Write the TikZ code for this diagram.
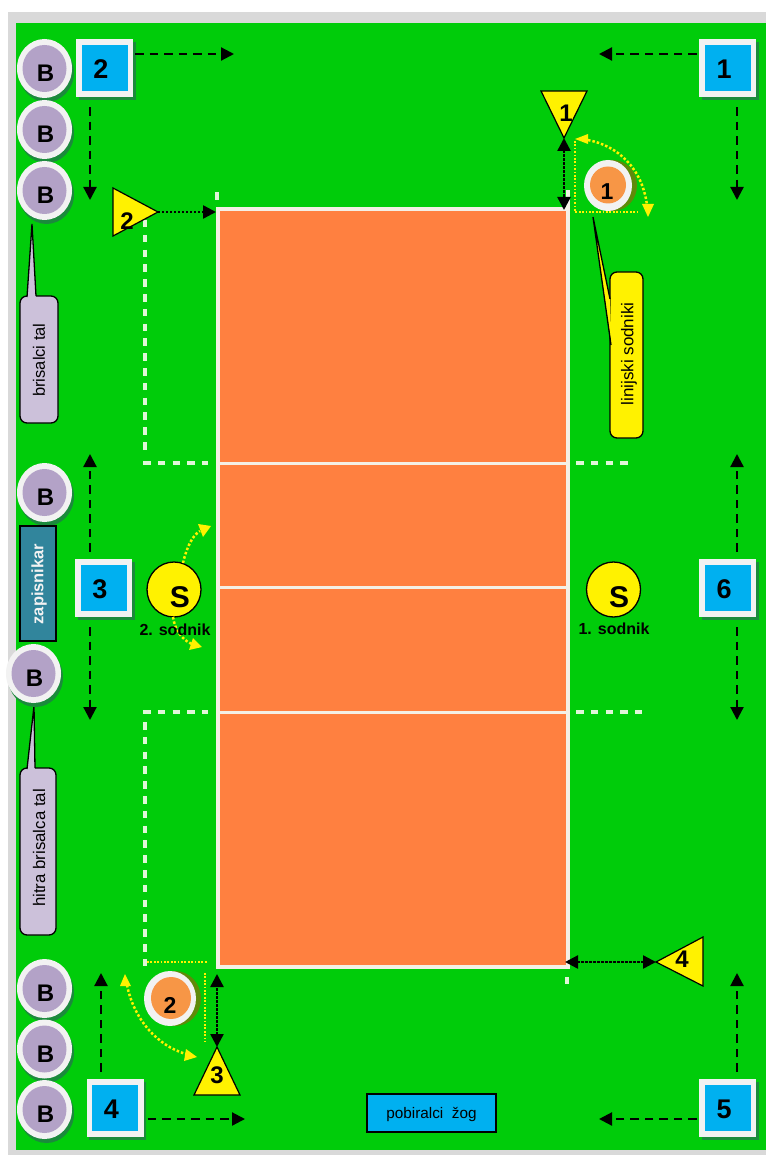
\documentclass[tikz,border=0pt]{standalone}
\usepackage{fontspec}
\setmainfont{Liberation Sans}
\usetikzlibrary{arrows.meta,shapes.geometric,calc}
\definecolor{grass}{HTML}{00CC0A}
\definecolor{frameg}{HTML}{D9D9D9}
\definecolor{courto}{HTML}{FF8040}
\definecolor{lineW}{HTML}{F4F0E6}
\definecolor{skyb}{HTML}{00B0F0}
\definecolor{lilac}{HTML}{B3A2C7}
\definecolor{lilacb}{HTML}{CCC1DA}
\definecolor{ring}{HTML}{F2F2F2}
\definecolor{shadowg}{HTML}{1B8A3C}
\definecolor{shadowo}{HTML}{5F8A0A}
\definecolor{ballo}{HTML}{F79646}
\definecolor{tealb}{HTML}{31859C}
\definecolor{dashW}{HTML}{E0F6D8}
\newcommand{\fs}[1]{\fontsize{#1}{#1}\selectfont}
\tikzset{
  x=1pt,y=-1pt,
  txt/.style={inner sep=0,font=\bfseries\fs{#1}},
  lab/.style={inner sep=0,font=\fs{#1},rotate=90},
  ellip/.style={ellipse,inner sep=0,minimum width=#1,draw=none},
  bsq/.style={rectangle,inner sep=0,minimum width=57pt,minimum height=58pt,fill=ring},
  bsqin/.style={rectangle,inner sep=0,minimum width=46pt,minimum height=46pt,fill=skyb},
  bsqsh/.style={rectangle,inner sep=0,minimum width=57pt,minimum height=58pt,fill=shadowg},
  dasharrow/.style={draw=black,line width=2.2pt,dash pattern=on 8.5pt off 6pt,-{Triangle[length=13pt,width=13pt]}},
  dotarrow/.style={draw=black,line width=2.4pt,dash pattern=on 2.2pt off 1.8pt,-{Triangle[length=13pt,width=13pt]}},
  dotboth/.style={draw=black,line width=2.4pt,dash pattern=on 2.2pt off 1.8pt,{Triangle[length=13pt,width=13pt]}-{Triangle[length=13pt,width=13pt]}},
  yelarc/.style={draw=yellow,line width=2.5pt,dash pattern=on 2.5pt off 2pt},
  yelthin/.style={draw=yellow,line width=1.5pt,dash pattern=on 1.7pt off 1.7pt},
  whdash/.style={draw=dashW,line width=3.5pt,dash pattern=on 7.5pt off 7.3pt},
  courtline/.style={draw=lineW,line width=3pt},
  tri/.style={draw=black,line width=1.2pt,fill=yellow},
  callout/.style={draw=black,line width=1.3pt,rounded corners=7pt},
  scircle/.style={ellipse,inner sep=0,minimum width=54pt,minimum height=55pt,draw=black,line width=1.3pt,fill=yellow},
}
\newcommand{\ballB}[3]{%
  \node[ellip=55pt,minimum height=59pt,fill=shadowg] at (#2+2,#3+4) {};
  \node[ellip=55pt,minimum height=59pt,fill=ring] (#1) at (#2,#3) {};
  \node[ellip=44pt,minimum height=47pt,fill=lilac] at (#2,#3) {};
  \node[txt=24] at (#2+1,#3+5) {B};
}
\newcommand{\numbox}[4]{%
  \node[bsqsh] at (#2+2.5,#3+3) {};
  \node[bsq] (#1) at (#2,#3) {};
  \node[bsqin] at (#2,#3) {};
  \node[txt=27] at (#2-3.5,#3+1) {#4};
}
\begin{document}
\begin{tikzpicture}
\useasboundingbox (0,0) rectangle (766,1155);
\fill[white] (0,0) rectangle (766,1155);
\fill[frameg] (8,12) rectangle (766,1155);
\fill[grass] (16,23) rectangle (766,1150);
% court
\node[rectangle,inner sep=0,minimum width=350pt,minimum height=758pt,fill=courto,draw=lineW,line width=4pt] (court) at (392.5,588) {};
\coordinate (m1l) at (217,463); \coordinate (m1r) at (568,463);
\coordinate (m2l) at (217,587); \coordinate (m2r) at (568,587);
\coordinate (m3l) at (217,712); \coordinate (m3r) at (568,712);
\draw[courtline] (m1l)--(m1r); \draw[courtline] (m2l)--(m2r); \draw[courtline] (m3l)--(m3r);
% free-zone dashes
\coordinate (a1) at (145,220); \coordinate (a2) at (145,454); \coordinate (a3) at (208,463);
\coordinate (a4) at (143,712); \coordinate (a5) at (208,712);
\coordinate (a6) at (145,722); \coordinate (a7) at (145,970);
\coordinate (a8) at (143,463);
\draw[whdash] (a1)--(a2);
\draw[whdash] (a8)--(a3);
\draw[whdash] (a4)--(a5);
\draw[whdash] (a6)--(a7);
\draw[whdash] (576,463)--(628,463);
\draw[whdash] (576,712)--(642,712);
\draw[draw=dashW,line width=3.5pt] (217,192)--(217,200);
\draw[draw=lineW,line width=3.5pt] (568,190)--(568,208);
\draw[draw=dashW,line width=3.5pt] (567,977)--(567,984);
% callouts
\node[callout,rectangle,inner sep=0,minimum width=38pt,minimum height=127pt,fill=lilacb] (c1) at (39,359.5) {};
\fill[lilacb] (32,224) -- (27,299) -- (36,299) -- cycle;
\draw[line width=1.3pt] (36,296) -- (32,224) -- (27,297);
\node[lab=16.5] at (39,360) {brisalci tal};
\node[callout,rectangle,inner sep=0,minimum width=36pt,minimum height=167pt,fill=lilacb] (c2) at (38,851.5) {};
\fill[lilacb] (34,706) -- (27,771) -- (35,771) -- cycle;
\draw[line width=1.3pt] (35,768) -- (34,706) -- (27,769);
\node[lab=16.8] at (39,848) {hitra brisalca tal};
\node[callout,rectangle,inner sep=0,minimum width=33pt,minimum height=166pt,fill=yellow] (c3) at (626.5,355) {};
\fill[yellow] (593,217) -- (610,299) -- (611.5,345) -- cycle;
\draw[line width=1.3pt] (610,299) -- (593,217) -- (611,345);
\node[lab=17] at (629,354) {linijski sodniki};
% balls
\ballB{ba}{44.5}{68.5}
\ballB{bb}{44.5}{129.5}
\ballB{bc}{44.5}{190.5}
\ballB{bd}{44.5}{492.5}
\ballB{bf}{44.5}{988.5}
\ballB{bg}{44.5}{1049}
\ballB{bh}{44.5}{1109.5}
% scorer
\node[rectangle,inner sep=0,minimum width=36pt,minimum height=115pt,fill=tealb,draw=black,line width=1.2pt] (zap) at (38,583.5) {};
\node[inner sep=0,rotate=90,text=ring,font=\bfseries\fs{16.5}] at (39,584) {zapisnikar};
\ballB{be}{33.5}{673.5}
% numbered boxes
\numbox{n2}{104.5}{68}{2}
\numbox{n1}{727.5}{68}{1}
\numbox{n3}{103.5}{588}{3}
\numbox{n6}{727.5}{588}{6}
\numbox{n4}{115}{1108}{4}
\numbox{n5}{727.5}{1108}{5}
% dashed arrows
\coordinate (e2r) at (234,54); \coordinate (e2d) at (90,200);
\coordinate (e1l) at (599,54); \coordinate (e1d) at (737,200);
\coordinate (e3u) at (90,454); \coordinate (e3d) at (90,720);
\coordinate (e6u) at (737,454); \coordinate (e6d) at (737,720);
\coordinate (e4u) at (101,973); \coordinate (e4r) at (245,1119);
\coordinate (e5u) at (737,973); \coordinate (e5l) at (599,1119);
\draw[dasharrow,shorten <=2pt] (n2.east |- e2r) -- (e2r);
\draw[dasharrow,shorten <=10pt] (e2d |- n2.south) -- (e2d);
\draw[dasharrow,shorten <=2pt] (n1.west |- e1l) -- (e1l);
\draw[dasharrow,shorten <=10pt] (e1d |- n1.south) -- (e1d);
\draw[dasharrow,shorten <=7pt] (e3u |- n3.north) -- (e3u);
\draw[dasharrow,shorten <=10pt] (e3d |- n3.south) -- (e3d);
\draw[dasharrow,shorten <=7pt] (e6u |- n6.north) -- (e6u);
\draw[dasharrow,shorten <=10pt] (e6d |- n6.south) -- (e6d);
\draw[dasharrow,shorten <=7pt] (e4u |- n4.north) -- (e4u);
\draw[dasharrow,shorten <=4pt] (n4.east |- e4r) -- (e4r);
\draw[dasharrow,shorten <=7pt] (e5u |- n5.north) -- (e5u);
\draw[dasharrow,shorten <=2pt] (n5.west |- e5l) -- (e5l);
% referee S
\coordinate (ya1) at (211,526); \coordinate (ya2) at (202,647);
\node[scircle] (s2) at (174,589.5) {};
\node[scircle] (s1) at (613.5,589.5) {};
\node[txt=30] at (180,597) {S};
\node[txt=30] at (619,597) {S};
\draw[yelarc] (183,563) .. controls (187,546) and (193,535) .. (200,531);
\fill[yellow] (ya1) -- (198,524) -- (203,537) -- cycle;
\draw[yelarc] (173,617) .. controls (175,630) and (182,640) .. (192,644);
\fill[yellow] (ya2) -- (193,638) -- (189,650) -- cycle;
\node[txt=16] at (175,630) {2. sodnik};
\node[txt=16] at (614,629) {1. sodnik};
% orange balls
\node[ellip=48pt,minimum height=51pt,fill=shadowo] at (613,185.5) {};
\node[ellip=48pt,minimum height=51pt,fill=ring] (o1) at (608,185.5) {};
\node[ellip=36pt,minimum height=37pt,fill=ballo] at (608,185) {};
\node[txt=23] at (607,192) {1};
\node[ellip=52pt,minimum height=55pt,fill=shadowo] at (175,998.5) {};
\node[ellip=52pt,minimum height=55pt,fill=ring] (o2) at (170,998.5) {};
\node[ellip=40pt,minimum height=42pt,fill=ballo] at (171,998) {};
\node[txt=23] at (170,1005) {2};
% triangles
\draw[tri] (541,91) -- (587,91) -- (564,138) -- cycle;
\node[txt=24,inner sep=0] (t1) at (566,113) {1};
\coordinate (t1tip) at (564,138);
\draw[tri] (113,188) -- (113,236) -- (158,212) -- cycle;
\node[txt=24] (t2) at (127,221) {2};
\coordinate (t2tip) at (158,212);
\draw[tri] (217,1047) -- (194,1095) -- (240,1095) -- cycle;
\node[txt=24] (t3) at (217,1075) {3};
\coordinate (t3tip) at (217,1047);
\draw[tri] (656,962) -- (703,937) -- (703,986) -- cycle;
\node[txt=24] (t4) at (682,959) {4};
\coordinate (t4tip) at (656,962);
% black dotted arrows
\coordinate (c1p) at (564,210); \coordinate (c2p) at (216,212);
\coordinate (c3p) at (217,974); \coordinate (c4p) at (565,962);
\draw[dotboth] (t1tip) -- (c1p);
\draw[dotarrow] (t2tip) -- (c2p);
\draw[dotboth] (t3tip) -- (c3p);
\draw[dotboth] (t4tip) -- (c4p);
% yellow guides near balls
\coordinate (g1) at (575,141); \coordinate (g2) at (575,212); \coordinate (g3) at (637,212);
\draw[yelthin] (g1) -- (g2) -- (g3);
\coordinate (g4) at (147,962); \coordinate (g5) at (208,962);
\coordinate (g6) at (205,973); \coordinate (g7) at (205,1042);
\draw[yelthin] (g4) -- (g5);
\draw[yelthin] (g6) -- (g7);
\draw[yelarc] (588,140) .. controls (618,146) and (642,168) .. (647,205);
\fill[yellow] (575,139) -- (588,134) -- (588,144) -- cycle;
\fill[yellow] (648,217) -- (642,204) -- (654,204) -- cycle;
\draw[yelarc] (127,985) .. controls (134,1020) and (158,1046) .. (186,1054);
\fill[yellow] (125,974) -- (120,986) -- (131,986) -- cycle;
\fill[yellow] (197,1057) -- (186,1049) -- (184,1061) -- cycle;
% pickers
\node[rectangle,inner sep=0,minimum width=129pt,minimum height=38pt,fill=skyb,draw=black,line width=1.2pt] (pick) at (431.5,1113) {};
\node[inner sep=0,font=\fs{15.3}] at (431.5,1115) {pobiralci\ \ žog};
\end{tikzpicture}
\end{document}
